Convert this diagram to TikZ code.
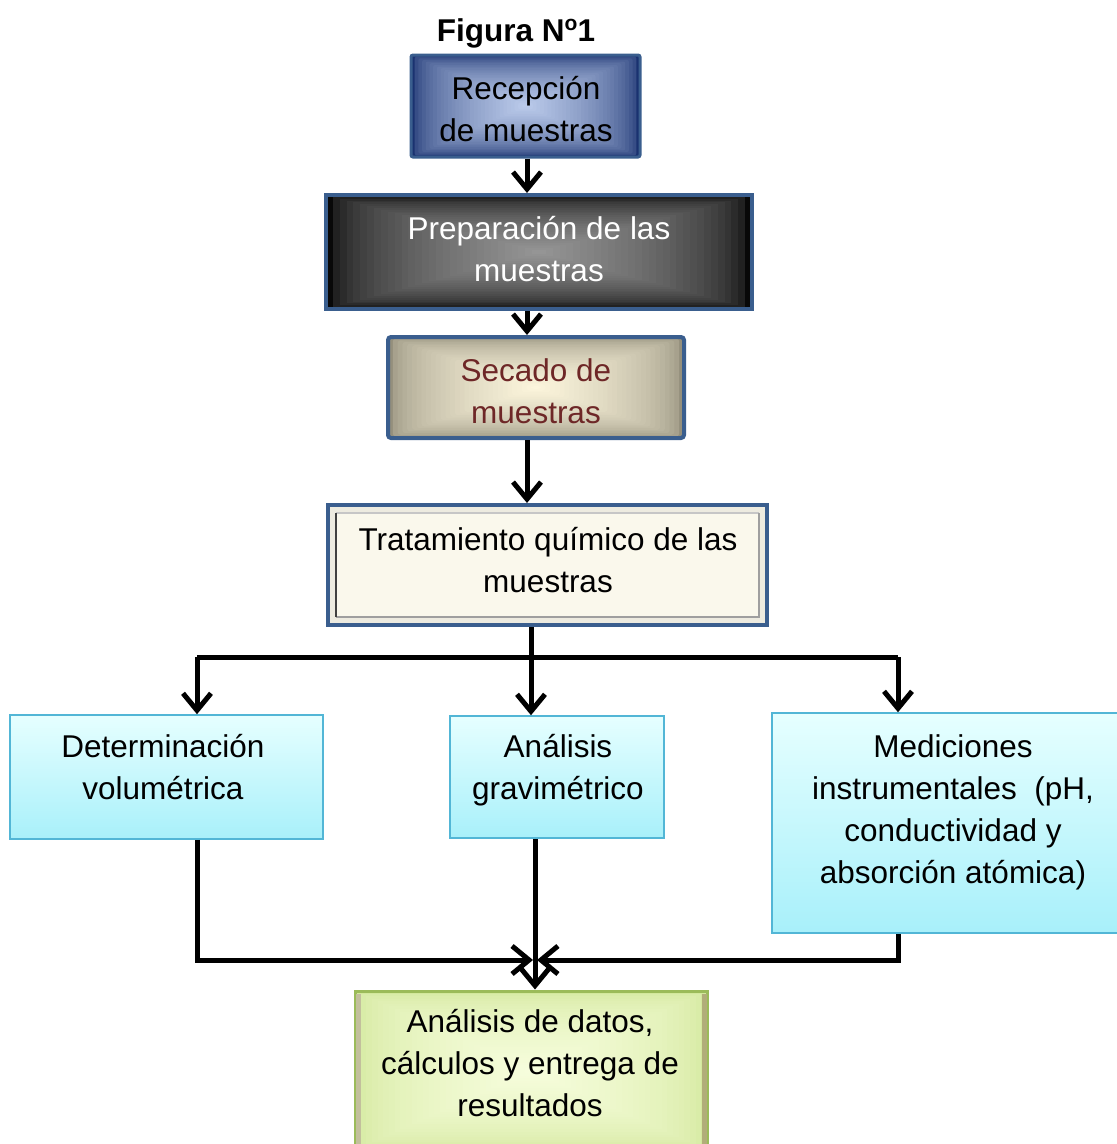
\documentclass[tikz,border=0pt]{standalone}
\usepackage{fontspec}
\setmainfont{Liberation Sans}
\usetikzlibrary{arrows.meta,calc}

\definecolor{navyedge}{HTML}{1A3270}
\definecolor{navycore}{HTML}{BACAEA}
\definecolor{steelline}{HTML}{3A5E8E}
\definecolor{coalEdge}{HTML}{080808}
\definecolor{coalCore}{HTML}{959595}
\definecolor{sandEdge}{HTML}{948F7C}
\definecolor{sandCore}{HTML}{FCF5DC}
\definecolor{wine}{HTML}{6E2727}
\definecolor{ivory}{HTML}{FAF8EC}
\definecolor{ivoryband}{HTML}{EDEBE0}
\definecolor{cyantop}{HTML}{E6FFFF}
\definecolor{cyanbot}{HTML}{A8F0FA}
\definecolor{cyanline}{HTML}{52B6D6}
\definecolor{limeEdge}{HTML}{D3E89C}
\definecolor{limeCore}{HTML}{F6FDDC}
\definecolor{limeline}{HTML}{9BBB59}

% rectangular gradient running from the border of a node to its centre
\newcommand\boxgrad[2]{%
  \foreach \k in {0,...,30}{%
    \pgfmathsetmacro\f{\k/31*0.5}%
    \pgfmathtruncatemacro\p{100*sqrt(\k/30)}%
    \fill[#2!\p!#1]
      ($(path picture bounding box.north west)!\f!(path picture bounding box.south east)$)
      rectangle
      ($(path picture bounding box.south east)!\f!(path picture bounding box.north west)$);
  }}

\tikzset{
  pgrad/.style 2 args={path picture={\boxgrad{#1}{#2}}},
  flowbox/.style={draw, inner sep=0pt},
  txt/.style={align=center, font=\fontsize{31.5}{42}\selectfont, inner sep=0pt},
  cyanbox/.style={flowbox, draw=cyanline, line width=1.5pt,
                  top color=cyantop, bottom color=cyanbot},
  ln/.style={line width=5pt, line join=miter},
  conn/.style={ln, -{Straight Barb[length=17pt,width=28pt]}},
}

\begin{document}
\begin{tikzpicture}[x=1pt,y=-1pt]
\useasboundingbox (0,0) rectangle (1117,1144);
\fill[white] (0,0) rectangle (1117,1144);

% title
\node[font=\fontsize{31.5}{36}\selectfont\bfseries, inner sep=0pt] (title) at (516,33)
  {Figura N\raisebox{11pt}{\fontsize{21}{21}\selectfont o}1};

% process boxes
\node[flowbox, draw=steelline, line width=3pt, rounded corners=2pt,
      pgrad={navyedge}{navycore}, minimum width=229pt, minimum height=102pt] (rec) at (525.5,106) {};
\node[txt] (recT) at (526,109) {Recepción\\de muestras};

\node[flowbox, draw=steelline, line width=4pt,
      pgrad={coalEdge}{coalCore}, minimum width=426pt, minimum height=114pt] (prep) at (539,252) {};
\node[txt, text=white] (prepT) at (539,249) {Preparación de las\\muestras};

\node[flowbox, draw=steelline, line width=4pt, rounded corners=3pt,
      pgrad={sandEdge}{sandCore}, minimum width=296pt, minimum height=101pt] (sec) at (536,387.5) {};
\node[txt, text=wine] (secT) at (536,391.5) {Secado de\\muestras};

\node[flowbox, draw=steelline, line width=4pt, fill=ivoryband,
      minimum width=439pt, minimum height=120pt] (trat) at (547.5,565) {};
\fill[ivory] ($(trat.north west)+(10,10)$) rectangle ($(trat.south east)+(-10,-10)$);
\draw[line width=2.5pt, gray!45] ($(trat.north west)+(10,10)$) -- ($(trat.north east)+(-10,10)$);
\draw[line width=2.5pt, gray!75] ($(trat.north east)+(-10,10)$) -- ($(trat.south east)+(-10,-10)$)
  -- ($(trat.south west)+(10,-10)$);
\draw[line width=2.5pt, black!75] ($(trat.south west)+(10,-10)$) -- ($(trat.north west)+(10,10)$);
\node[txt] (tratT) at (548,560.5) {Tratamiento químico de las\\muestras};

\node[cyanbox, minimum width=313pt, minimum height=124pt] (det) at (166.5,777) {};
\node[txt] (detT) at (163,767) {Determinación\\volumétrica};

\node[cyanbox, minimum width=214pt, minimum height=122pt] (grav) at (557,777) {};
\node[txt] (gravT) at (558,770) {Análisis\\gravimétrico};

\node[cyanbox, minimum width=353pt, minimum height=220pt] (med) at (948.5,823) {};
\node[txt] (medT) at (953,812.5) {Mediciones\\instrumentales\ \ (pH,\\conductividad y\\absorción atómica)};

\node[flowbox, draw=limeline, line width=3pt,
      pgrad={limeEdge}{limeCore}, minimum width=352pt, minimum height=159pt] (res) at (531,1070.5) {};
\draw[line width=5pt, olive!45!gray!70] ($(res.north east)+(-4.5,4.5)$) -- ($(res.south east)+(-4.5,-4.5)$);
\draw[line width=5pt, olive!35!gray!55] ($(res.north west)+(4.5,4.5)$) -- ($(res.south west)+(4.5,-4.5)$);
\node[txt] (resT) at (530,1063.5) {Análisis de datos,\\cálculos y entrega de\\resultados};

% connectors
\coordinate (jc) at (531,657);
\coordinate (jl) at (197,657);
\coordinate (jr) at (898,657);
\coordinate (ml) at (197,960);
\coordinate (mr) at (898,960);
\coordinate (mc) at (535,960);
\coordinate (sx) at (527,0);

\draw[conn] (rec.south -| sx) -- (sx |- prep.north);
\draw[conn] (prep.south -| sx) -- (sx |- sec.north);
\draw[conn] (sec.south -| sx) -- (sx |- trat.north);

\draw[conn] (trat.south -| jc) -- (jc |- grav.north);
\draw[ln] (jl) -- (jr);
\draw[conn] (jl) -- (jl |- det.north);
\draw[conn] (jr) -- (jr |- med.north);

\draw[conn] (jl |- det.south) -- (ml) -- ($(mc)+(-2,0)$);
\draw[conn] (grav.south -| mc) -- (mc |- res.north);
\draw[conn] (jr |- med.south) -- (mr) -- ($(mc)+(2,0)$);
\end{tikzpicture}
\end{document}
